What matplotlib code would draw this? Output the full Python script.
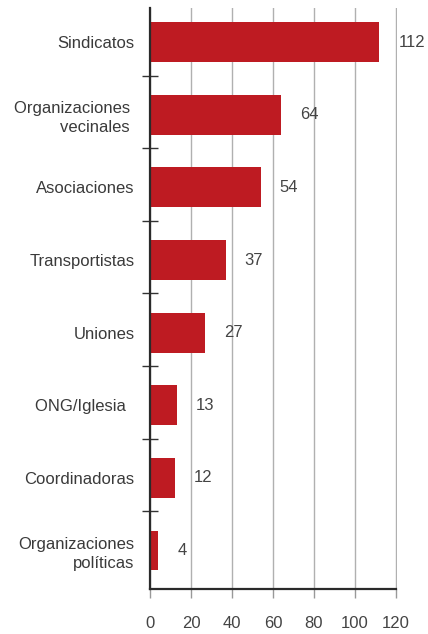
import matplotlib
matplotlib.use("Agg")
import matplotlib.pyplot as plt
import numpy as np

categories = ["Sindicatos", "Organizaciones \nvecinales ", "Asociaciones", "Transportistas",
              "Uniones", "ONG/Iglesia  ", "Coordinadoras", "Organizaciones\npolíticas"]
values = [112, 64, 54, 37, 27, 13, 12, 4]
xticks = [0, 20, 40, 60, 80, 100, 120]

plt.rcParams['font.family'] = ['Liberation Sans', 'DejaVu Sans']

fig = plt.figure(figsize=(4.28, 6.34), dpi=100)
ax = fig.add_axes([150/428, 1-589/634, 247/428, 581/634])

y = np.arange(len(categories))
ax.barh(y, values, height=0.55, color="#BE1B22", zorder=3)
ax.set_ylim(len(categories)-0.5+0.03, -0.47)
ax.set_xlim(0, 120.6)

for yi, v in zip(y, values):
    ax.annotate(str(v), (v, yi), xytext=(19, 0), textcoords="offset pixels",
                va="center", ha="left", fontsize=12, color="#444444")

ax.set_yticks(y)
ax.set_yticklabels(categories, fontsize=12, color="#3a3a3a", multialignment="right", linespacing=1.35)
ax.tick_params(axis='y', which='major', length=0, pad=11)
ax.set_yticks(y[:-1] + 0.46, minor=True)
ax.tick_params(axis='y', which='minor', direction='inout', length=12, width=1, color="#333333")

ax.set_xticks(xticks)
ax.set_xticklabels([str(t) for t in xticks], fontsize=12, color="#444444")
ax.tick_params(axis='x', length=6.5, width=1, color="#999999", pad=13)

ax.grid(axis='x', color="#b0b0b0", linewidth=1, zorder=0)
for s in ["top", "right"]:
    ax.spines[s].set_visible(False)
ax.spines["left"].set_color("#2a2a2a")
ax.spines["left"].set_linewidth(1.6)
ax.spines["bottom"].set_color("#2a2a2a")
ax.spines["bottom"].set_linewidth(1.6)
ax.spines["bottom"].set_bounds(0, 120)
ax.spines["left"].set_zorder(4)

fig.savefig("out.png", dpi=100)
